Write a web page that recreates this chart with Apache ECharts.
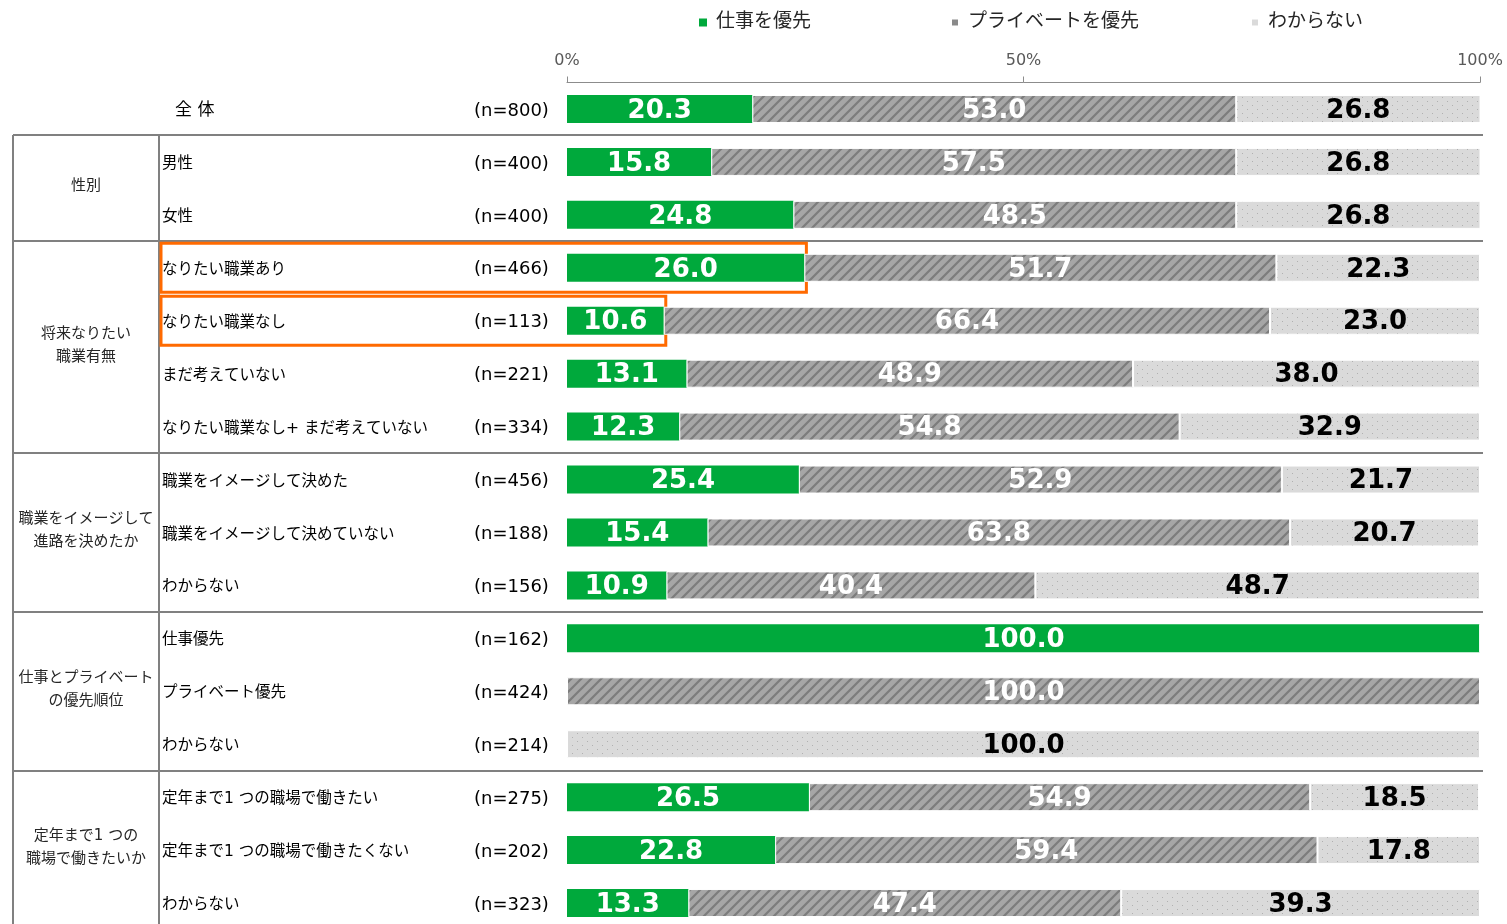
<!DOCTYPE html>
<html>
<head>
<meta charset="utf-8">
<script src="https://cdn.jsdelivr.net/npm/echarts@6/dist/echarts.min.js"></script>
<style>
html,body{margin:0;padding:0;background:#fff;}
#main{width:1507px;height:924px;}
</style>
</head>
<body>
<div id="main"></div>
<script>
// 行ラベル
const rowNames = ['全 体','男性','女性','なりたい職業あり','なりたい職業なし','まだ考えていない','なりたい職業なし+ まだ考えていない',
  '職業をイメージして決めた','職業をイメージして決めていない','わからない','仕事優先','プライベート優先','わからない',
  '定年まで1 つの職場で働きたい','定年まで1 つの職場で働きたくない','わからない']
const nValues = [800,400,400,466,113,221,334,456,188,156,162,424,214,275,202,323]
const seriesNames = ['仕事を優先','プライベートを優先','わからない']
const workFirst = [20.3,15.8,24.8,26.0,10.6,13.1,12.3,25.4,15.4,10.9,100.0,0,0,26.5,22.8,13.3]
const privateFirst = [53.0,57.5,48.5,51.7,66.4,48.9,54.8,52.9,63.8,40.4,0,100.0,0,54.9,59.4,47.4]
const unknown = [26.8,26.8,26.8,22.3,23.0,38.0,32.9,21.7,20.7,48.7,0,0,100.0,18.5,17.8,39.3]
const xTicks = [0,50,100]
// グループ(開始行, 終了行, ラベル)
const groupStart = [1,3,7,10,13]
const groupEnd = [2,6,9,12,15]
const groupLabels = ['性別','将来なりたい\n職業有無','職業をイメージして\n進路を決めたか','仕事とプライベート\nの優先順位','定年まで1 つの\n職場で働きたいか']
const highlightRows = [3,4]

// 斜線パターン
function makeHatch(){
  const c = document.createElement('canvas')
  c.width = 10; c.height = 10
  const ctx = c.getContext('2d')
  ctx.fillStyle = '#a6a6a6'
  ctx.fillRect(0,0,10,10)
  ctx.strokeStyle = '#7c7c7c'
  ctx.lineWidth = 2.2
  ctx.beginPath()
  ctx.moveTo(0,10); ctx.lineTo(10,0)
  ctx.moveTo(-2,2); ctx.lineTo(2,-2)
  ctx.moveTo(8,12); ctx.lineTo(12,8)
  ctx.stroke()
  return c
}
// ドットパターン
function makeDots(){
  const c = document.createElement('canvas')
  c.width = 10; c.height = 8
  const ctx = c.getContext('2d')
  ctx.fillStyle = '#dadada'
  ctx.fillRect(0,0,10,8)
  ctx.fillStyle = '#b0b0b0'
  ctx.fillRect(2,1,1,1)
  ctx.fillRect(7,5,1,1)
  return c
}

const chart = echarts.init(document.getElementById('main'))
const FONT = '"DejaVu Sans","Noto Sans CJK JP",sans-serif'
const labelColors = ['#fff','#fff','#000']
const colors = ['#00a93c',{image:makeHatch(),repeat:'repeat'},{image:makeDots(),repeat:'repeat'}]
const legendIcons = ['#00a93c','#8a8a8a','#dadada']
const legendLeft = [699,950,1250]
const dataArr = [workFirst,privateFirst,unknown]

const option = {
  animation:false,
  legend:seriesNames.map((s,k)=>({
    left:legendLeft[k], top:13, padding:0,
    itemWidth:8, itemHeight:8,
    icon:'rect',
    textStyle:{fontFamily:FONT,fontSize:19,color:'#262626',padding:[0,0,0,4]},
    data:[{name:s,itemStyle:{color:legendIcons[k]}}]
  })),
  grid:{left:567,right:27,top:82.5,height:847,outerBoundsMode:'none'},
  xAxis:{
    type:'value', position:'top', min:0, max:100, interval:50,
    axisLine:{show:true,lineStyle:{color:'#8c8c8c',width:1}},
    axisTick:{show:true,length:6,lineStyle:{color:'#8c8c8c'}},
    axisLabel:{formatter:'{value}%',color:'#595959',fontFamily:FONT,fontSize:16,margin:14},
    splitLine:{show:false}
  },
  yAxis:{
    type:'category', inverse:true,
    data:rowNames.map((_,i)=>String(i)),
    axisLine:{show:false}, axisTick:{show:false},
    axisLabel:{
      align:'left', margin:405, padding:[4,0,0,0],
      formatter:(v,i)=>{
        if(i===0) return '{top|'+rowNames[i]+'}{n|(n='+nValues[i]+')}'
        return '{name|'+rowNames[i]+'}{n|(n='+nValues[i]+')}'
      },
      rich:{
        top:{width:299,padding:[0,0,0,13],fontFamily:FONT,fontSize:17,color:'#000'},
        name:{width:312,fontFamily:FONT,fontSize:15.5,color:'#000'},
        n:{fontFamily:FONT,fontSize:18,color:'#000'}
      }
    }
  },
  series:dataArr.map((d,k)=>({
    name:seriesNames[k], type:'bar', stack:'all', barWidth:28,
    itemStyle:{color:colors[k],borderColor:'#fff',borderWidth:k===0?0:1},
    label:{
      show:true, position:'inside',
      formatter:p=>p.value>0?p.value.toFixed(1):'',
      color:labelColors[k], fontFamily:FONT, fontWeight:'bold', fontSize:26,
      offset:[0,2]
    },
    data:d
  }))
}
chart.setOption(option)

// 表の罫線・グループラベル・強調枠
const graphics = []
const rowY = i => chart.convertToPixel({yAxisIndex:0}, i)
const half = (rowY(1)-rowY(0))/2
const lineStyle = {stroke:'#808080',lineWidth:2}
// 横線
const splitRows = [0].concat(groupEnd.slice(0,-1))
splitRows.forEach(r=>{
  const y = Math.round(rowY(r)+half)
  graphics.push({type:'line',shape:{x1:13,y1:y,x2:1483,y2:y},style:lineStyle,silent:true})
})
const topY = Math.round(rowY(0)+half)
graphics.push({type:'line',shape:{x1:13,y1:topY,x2:13,y2:924},style:lineStyle,silent:true})
graphics.push({type:'line',shape:{x1:159,y1:topY,x2:159,y2:924},style:lineStyle,silent:true})
// グループラベル
groupLabels.forEach((t,g)=>{
  const y = (rowY(groupStart[g])+rowY(groupEnd[g]))/2 - 2
  graphics.push({type:'text',x:86,y:y,silent:true,
    style:{text:t,fontFamily:FONT,fontSize:15,fill:'#262626',align:'center',verticalAlign:'middle',lineHeight:23}})
})
// 強調枠
highlightRows.forEach(r=>{
  const xEnd = chart.convertToPixel({xAxisIndex:0}, workFirst[r]) + 2
  const yc = rowY(r)
  graphics.push({type:'rect',silent:true,
    shape:{x:161,y:yc-24.5,width:xEnd-161,height:49},
    style:{fill:'none',stroke:'#ff6a00',lineWidth:3}})
})
chart.setOption({graphic:graphics})
</script>
</body>
</html>
